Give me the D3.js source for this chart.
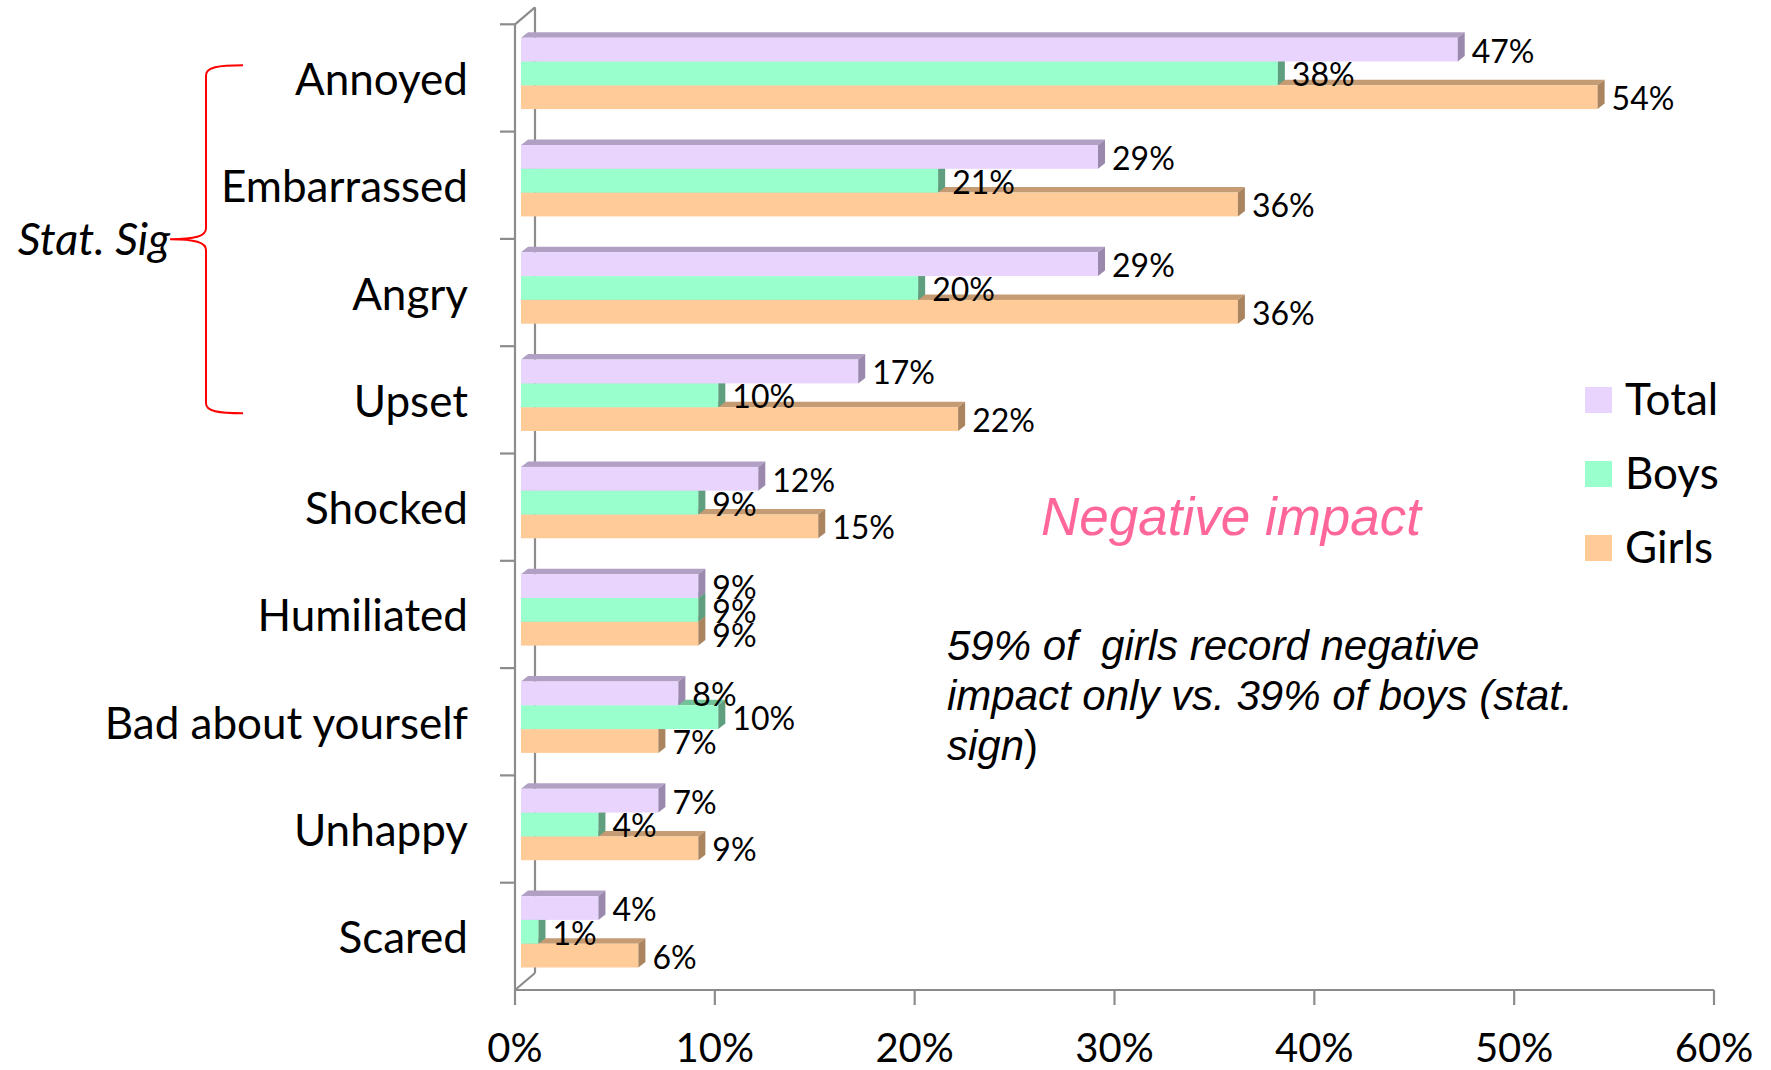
<!DOCTYPE html>
<html>
<head>
<meta charset="utf-8">
<script src="https://cdn.jsdelivr.net/npm/d3@7"></script>
<style>
  body { margin: 0; background: #fff; }
</style>
</head>
<body>
<div id="vis"></div>
<script>
// data
let categories = ['Annoyed', 'Embarrassed', 'Angry', 'Upset', 'Shocked', 'Humiliated', 'Bad about yourself', 'Unhappy', 'Scared'];
let series = ['Total', 'Boys', 'Girls'];
let total = [0.47, 0.29, 0.29, 0.17, 0.12, 0.09, 0.08, 0.07, 0.04];
let boys = [0.38, 0.21, 0.20, 0.10, 0.09, 0.09, 0.10, 0.04, 0.01];
let girls = [0.54, 0.36, 0.36, 0.22, 0.15, 0.09, 0.07, 0.09, 0.06];
let xTicks = [0, 0.1, 0.2, 0.3, 0.4, 0.5, 0.6];
let sigGroup = ['Annoyed', 'Upset'];

let values = { Total: total, Boys: boys, Girls: girls };

let colors = {
    Total: { front: '#e9d4fd', top: '#b1a0c4', side: '#9a89ad' },
    Boys: { front: '#99ffcc', top: '#72c29a', side: '#5f9e7e' },
    Girls: { front: '#fecb99', top: '#c49b73', side: '#a9845f' }
};

let width = 1771, height = 1070;
let labelFont = 'Lato, "Open Sans", sans-serif';
let arialFont = '"Liberation Sans", Arial, sans-serif';

let svg = d3.select('#vis')
    .append('svg')
    .attr('width', width)
    .attr('height', height)
    .style('display', 'block')
    .style('font-family', labelFont);

let x = d3.scaleLinear().domain([0, 0.6]).range([515, 1714]);
let y0 = d3.scaleBand().domain(categories).range([24.3, 990]);
let y1 = d3.scaleBand().domain(series).range([13.4, 84.8]);

let dx = 7, dy = 5.5, depth = 20, depthY = 17;
let axisColor = '#8c8c8c';

// walls / axes
let walls = svg.append('g').attr('stroke', axisColor).attr('stroke-width', 2.2).attr('fill', 'none');
walls.append('line').attr('x1', x(0) + depth).attr('x2', x(0) + depth)
    .attr('y1', y0.range()[0] - depthY).attr('y2', y0.range()[1] - depthY);
walls.append('line').attr('x1', x(0)).attr('x2', x(0) + depth)
    .attr('y1', y0.range()[0]).attr('y2', y0.range()[0] - depthY);
walls.append('line').attr('x1', x(0)).attr('x2', x(0) + depth)
    .attr('y1', y0.range()[1]).attr('y2', y0.range()[1] - depthY);
walls.append('line').attr('x1', x(0)).attr('x2', x(0))
    .attr('y1', y0.range()[0]).attr('y2', y0.range()[1]);
walls.append('line').attr('x1', x(0)).attr('x2', x(0.6))
    .attr('y1', y0.range()[1]).attr('y2', y0.range()[1]);

// category ticks on front axis
let catTicks = categories.map(c => y0(c));
walls.selectAll('.ytick').data(catTicks).join('line')
    .attr('x1', x(0) - 15).attr('x2', x(0))
    .attr('y1', d => d).attr('y2', d => d);

walls.selectAll('.xtick').data(xTicks).join('line')
    .attr('x1', d => x(d)).attr('x2', d => x(d))
    .attr('y1', y0.range()[1]).attr('y2', y0.range()[1] + 15);

svg.selectAll('.xlab').data(xTicks).join('text')
    .attr('x', d => x(d))
    .attr('y', 1062)
    .attr('text-anchor', 'middle')
    .attr('font-size', 40)
    .text(d3.format('.0%'));

svg.selectAll('.ylab').data(categories).join('text')
    .attr('x', 468)
    .attr('y', d => y0(d) + y0.bandwidth() / 2 + 17)
    .attr('text-anchor', 'end')
    .attr('font-size', 44)
    .text(d => d);

// bars: draw Girls first so the upper bars sit over their top faces
let x0 = x(0) + 6;
let order = ['Girls', 'Boys', 'Total'];

categories.forEach((cat, i) => {
    let g = svg.append('g');
    order.forEach(s => {
        let v = values[s][i];
        let xr = x(v) + 3.5;
        let yt = y0(cat) + y1(s);
        let yb = yt + y1.bandwidth();
        let c = colors[s];
        g.append('path')
            .attr('d', `M${x0},${yt}L${x0 + dx},${yt - dy}L${xr + dx},${yt - dy}L${xr},${yt}Z`)
            .attr('fill', c.top);
        g.append('rect')
            .attr('x', x0).attr('y', yt)
            .attr('width', xr - x0).attr('height', yb - yt)
            .attr('fill', c.front);
        g.append('path')
            .attr('d', `M${xr},${yt}L${xr + dx},${yt - dy}L${xr + dx},${yb - dy}L${xr},${yb}Z`)
            .attr('fill', c.side);
    });
});

// data labels
categories.forEach((cat, i) => {
    series.forEach(s => {
        let v = values[s][i];
        svg.append('text')
            .attr('x', x(v) + 3.5 + dx + 7)
            .attr('y', y0(cat) + y1(s) + y1.bandwidth() + 1)
            .attr('font-size', 32)
            .text(d3.format('.0%')(v));
    });
});

// legend
let legend = svg.append('g').attr('transform', 'translate(1585,387)');
series.forEach((s, i) => {
    legend.append('rect').attr('x', 0).attr('y', i * 74)
        .attr('width', 27).attr('height', 26).attr('fill', colors[s].front);
    legend.append('text').attr('x', 40).attr('y', i * 74 + 28)
        .attr('font-size', 44).text(s);
});

// stat. sig brace
let bTop = y0(sigGroup[0]) + 41, bBot = y0(sigGroup[1]) + 67;
let bMid = (bTop + bBot) / 2;
svg.append('path')
    .attr('d', `M243,${bTop} C218,${bTop} 206,${bTop + 2} 206,${bTop + 10} L206,${bMid - 11} C206,${bMid - 3} 195,${bMid} 170,${bMid} C195,${bMid} 206,${bMid + 3} 206,${bMid + 11} L206,${bBot - 10} C206,${bBot - 2} 218,${bBot} 243,${bBot}`)
    .attr('fill', 'none').attr('stroke', '#ff0000').attr('stroke-width', 2);

svg.append('text')
    .attr('x', 170).attr('y', 255)
    .attr('text-anchor', 'end')
    .attr('font-size', 45).attr('font-style', 'italic')
    .text('Stat. Sig');

svg.append('text')
    .attr('x', 1041).attr('y', 535)
    .style('font-family', arialFont)
    .attr('font-size', 53).attr('font-style', 'italic')
    .attr('fill', '#ff6699')
    .text('Negative impact');

let note = svg.append('text')
    .style('font-family', arialFont)
    .attr('font-size', 42).attr('font-style', 'italic');
note.append('tspan').attr('x', 947).attr('y', 660).attr('xml:space', 'preserve').text('59% of  girls record negative');
note.append('tspan').attr('x', 947).attr('y', 710).text('impact only vs. 39% of boys (stat.');
note.append('tspan').attr('x', 947).attr('y', 760).text('sign');
note.append('tspan').attr('font-style', 'normal').text(')');
</script>
</body>
</html>
